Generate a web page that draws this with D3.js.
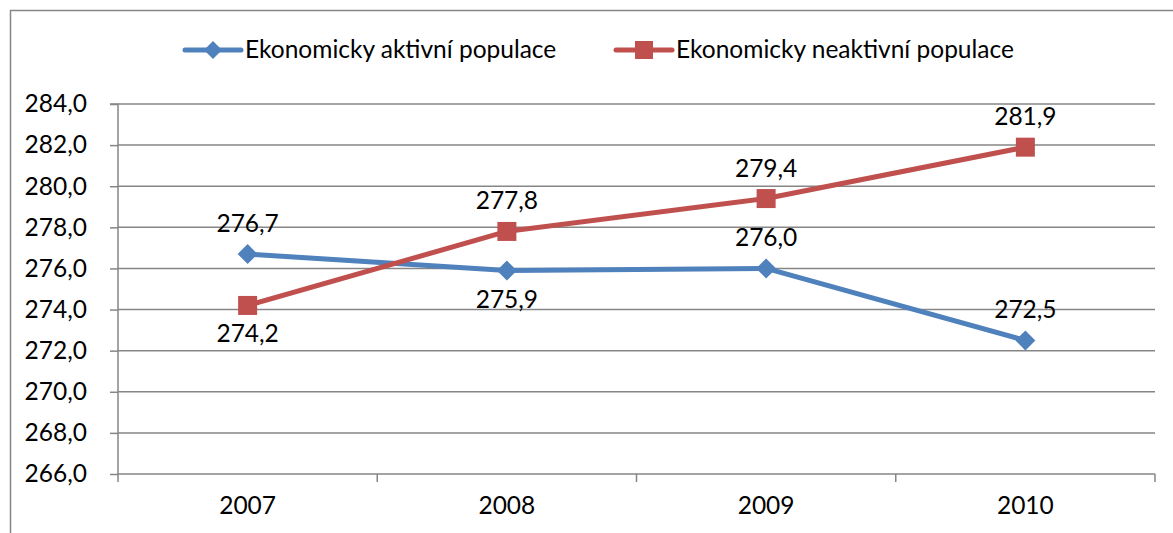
<!DOCTYPE html>
<html><head><meta charset="utf-8">
<script src="https://cdn.jsdelivr.net/npm/d3@7"></script>
<style>body{margin:0;background:#fff;} text{font-family:Lato,"Open Sans",sans-serif;fill:#000;}</style>
</head><body>
<svg id="c" width="1173" height="533"></svg>
<script>
const categories = ["2007","2008","2009","2010"];
const seriesNames = ["Ekonomicky aktivní populace","Ekonomicky neaktivní populace"];
const activeValues = [276.7, 275.9, 276.0, 272.5];
const inactiveValues = [274.2, 277.8, 279.4, 281.9];
const activeLabelPos = ["above","below","above","above"];
const inactiveLabelPos = ["below","above","above","above"];
const yTicks = [266,268,270,272,274,276,278,280,282,284];
const colors = ["#4F81BD","#C0504D"];

const svg = d3.select("#c");
const fs = 24.5;
const fmt = v => v.toFixed(1).replace(".", ",");

svg.append("rect").attr("x",10.5).attr("y",10.5).attr("width",1180).attr("height",540)
  .attr("fill","none").attr("stroke","#868686").attr("stroke-width",1.5);

const L=118, R=1155, T=104, B=474;
const x = d3.scaleBand().domain(categories).range([L,R]);
const y = d3.scaleLinear().domain([266,284]).range([B,T]);

svg.append("g").selectAll("line").data(yTicks.filter(t=>t>266)).join("line")
  .attr("x1",L).attr("x2",R).attr("y1",d=>y(d)).attr("y2",d=>y(d))
  .attr("stroke","#868686").attr("stroke-width",1.5);

const ya = svg.append("g").attr("transform",`translate(${L},0)`)
  .call(d3.axisLeft(y).tickValues(yTicks).tickSize(8).tickPadding(23).tickFormat(fmt));
ya.select(".domain").attr("stroke","#868686").attr("stroke-width",1.5).attr("d",`M-8,${T}H0V${B}`);
ya.selectAll(".tick line").attr("stroke","#868686").attr("stroke-width",1.5);
ya.selectAll("text").style("font-size",fs+"px").style("font-family","Lato");

const xa = svg.append("g").attr("transform",`translate(0,${B})`)
  .call(d3.axisBottom(x).tickSize(0).tickPadding(23));
xa.select(".domain").attr("stroke","#868686").attr("stroke-width",1.5).attr("d",`M${L},0H${R}`);
xa.selectAll("text").style("font-size",fs+"px").style("font-family","Lato");
const bounds = categories.map(c=>x(c)).concat([R]);
svg.append("g").selectAll("line").data(bounds).join("line")
  .attr("x1",d=>d).attr("x2",d=>d).attr("y1",B).attr("y2",B+8)
  .attr("stroke","#868686").attr("stroke-width",1.5);

const cx = c => x(c)+x.bandwidth()/2;
const line = d3.line().x(d=>cx(d.c)).y(d=>y(d.v));
const series = [
  {vals:activeValues, pos:activeLabelPos, color:colors[0], marker:"diamond"},
  {vals:inactiveValues, pos:inactiveLabelPos, color:colors[1], marker:"square"}
];
series.forEach(s=>{
  const pts = categories.map((c,i)=>({c, v:s.vals[i], p:s.pos[i]}));
  svg.append("path").datum(pts).attr("d",line).attr("fill","none")
    .attr("stroke",s.color).attr("stroke-width",5).attr("stroke-linejoin","round");
  const g = svg.append("g");
  if(s.marker==="diamond"){
    g.selectAll("path").data(pts).join("path")
      .attr("d",d=>{const X=cx(d.c),Y=y(d.v),r=10;return `M${X},${Y-r}L${X+r},${Y}L${X},${Y+r}L${X-r},${Y}Z`;})
      .attr("fill",s.color);
  } else {
    g.selectAll("rect").data(pts).join("rect")
      .attr("x",d=>cx(d.c)-9.5).attr("y",d=>y(d.v)-9.5).attr("width",19).attr("height",19)
      .attr("fill",s.color);
  }
  svg.append("g").selectAll("text").data(pts).join("text")
    .attr("x",d=>cx(d.c)).attr("y",d=>y(d.v)+(d.p==="above"?-22:37))
    .attr("text-anchor","middle").style("font-size",fs+"px").text(d=>fmt(d.v));
});

const leg = [{x0:185,x1:241,tx:245,color:colors[0],marker:"diamond",name:seriesNames[0]},
             {x0:616,x1:672,tx:676,color:colors[1],marker:"square",name:seriesNames[1]}];
const ly = 50;
leg.forEach(l=>{
  svg.append("line").attr("x1",l.x0).attr("x2",l.x1).attr("y1",ly).attr("y2",ly)
    .attr("stroke",l.color).attr("stroke-width",5).attr("stroke-linecap","round");
  const m=(l.x0+l.x1)/2;
  if(l.marker==="diamond") svg.append("path").attr("d",`M${m},${ly-9}L${m+9},${ly}L${m},${ly+9}L${m-9},${ly}Z`).attr("fill",l.color);
  else svg.append("rect").attr("x",m-9).attr("y",ly-9).attr("width",18).attr("height",18).attr("fill",l.color);
  svg.append("text").attr("x",l.tx).attr("y",ly+8).style("font-size",fs+"px").text(l.name);
});
</script>
</body></html>
